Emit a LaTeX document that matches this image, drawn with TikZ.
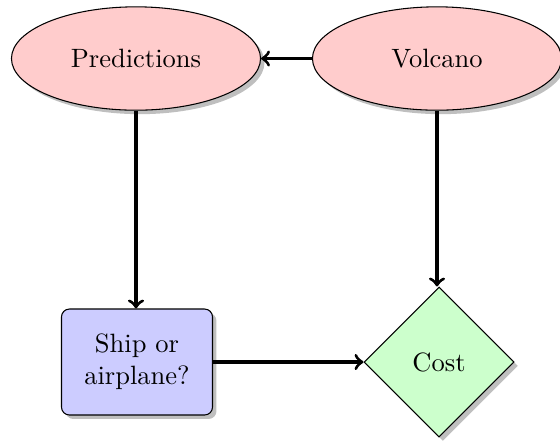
\documentclass[tikz,border=0pt]{standalone}
\usetikzlibrary{shapes.geometric,shadows}
\begin{document}
\begin{tikzpicture}[x=0.3774pt, y=-0.3774pt,
  shade box/.style={drop shadow={shadow xshift=1.5pt, shadow yshift=-1.5pt, opacity=.5}},
  chance/.style={ellipse, draw, fill=red!20, shade box, inner sep=0pt,
    minimum width=94pt, minimum height=39pt},
  decision/.style={rectangle, rounded corners=3pt, draw, fill=blue!20, shade box,
    align=center, minimum width=57pt, minimum height=40pt, inner sep=0pt},
  utility/.style={diamond, draw, fill=green!20, shade box, inner sep=0pt,
    minimum width=56.6pt, minimum height=56.6pt},
  link/.style={->, very thick}]
  \useasboundingbox (0,0) rectangle (560,442);
  \node[chance] (pred) at (136,58.5) {Predictions};
  \node[chance] (volc) at (437,58.5) {Volcano};
  \node[decision] (ship) at (137,362) {Ship or\\airplane?};
  \node[utility] (cost) at (439,362) {Cost};
  \draw[link] (volc) -- (pred);
  \draw[link] (pred.south) -- (pred.south |- ship.north);
  \draw[link] (volc.south) -- (volc.south |- cost.north);
  \draw[link] (ship) -- (cost);
\end{tikzpicture}
\end{document}
